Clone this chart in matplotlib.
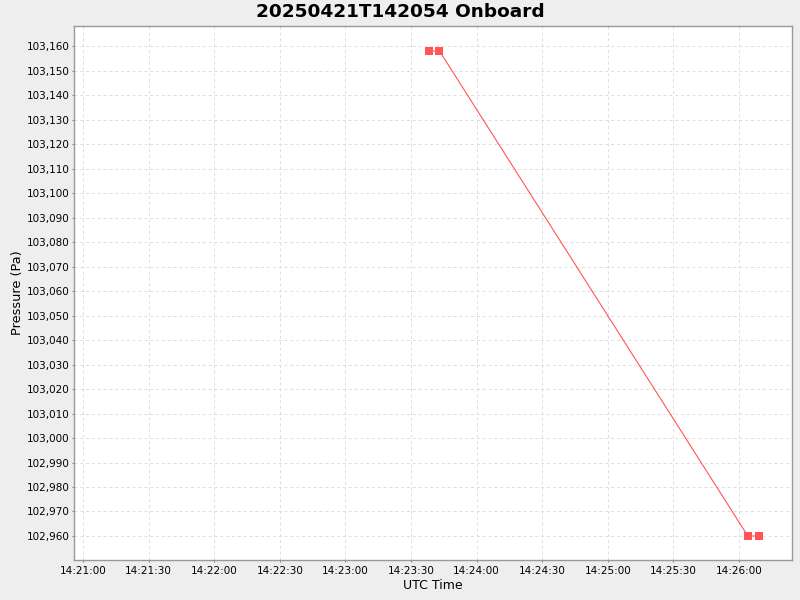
import matplotlib
matplotlib.use("Agg")
import matplotlib.pyplot as plt
import matplotlib.dates as mdates
import matplotlib.ticker as mticker
import pandas as pd

# readings from the onboard sensor
times = pd.to_datetime(["2025-04-21 14:23:38", "2025-04-21 14:23:43",
                        "2025-04-21 14:26:04", "2025-04-21 14:26:09"])
pressure = [103158, 103158, 102960, 102960]

title = "20250421T142054 Onboard"
x_label = "UTC Time"
y_label = "Pressure (Pa)"

fig = plt.figure(figsize=(8, 6), dpi=100, facecolor="#EEEEEE")
ax = fig.add_axes([74 / 800, 40 / 600, 718 / 800, 534 / 600])
ax.set_facecolor("white")

ax.plot(times, pressure, color="#FF5555", linewidth=0.8,
        marker="s", markersize=5.5, markeredgewidth=0, zorder=3)

ax.set_xlim(pd.Timestamp("2025-04-21 14:20:55.9"), pd.Timestamp("2025-04-21 14:26:24.2"))
ax.set_ylim(102950.2, 103168.2)

ax.xaxis.set_major_locator(mdates.SecondLocator(bysecond=[0, 30]))
ax.xaxis.set_major_formatter(mdates.DateFormatter("%H:%M:%S"))
ax.yaxis.set_major_locator(mticker.MultipleLocator(10))
ax.yaxis.set_major_formatter(mticker.FuncFormatter(lambda v, p: f"{v:,.0f}"))

ax.grid(True, color="#DDDDDD", linestyle=(0, (3, 3)), linewidth=0.7)
ax.tick_params(axis="both", labelsize=7.5, length=1.5, color="#888888", pad=1.5)
ax.tick_params(axis="x", pad=3)
for s in ax.spines.values():
    s.set_color("#999999")
    s.set_linewidth(1)

ax.set_xlabel(x_label, fontsize=9, labelpad=2)
ax.set_ylabel(y_label, fontsize=9.3, labelpad=2)
fig.suptitle(title, fontsize=13.3, fontweight="bold", y=0.995, va="top")

fig.savefig("out.png", dpi=100, facecolor=fig.get_facecolor())
